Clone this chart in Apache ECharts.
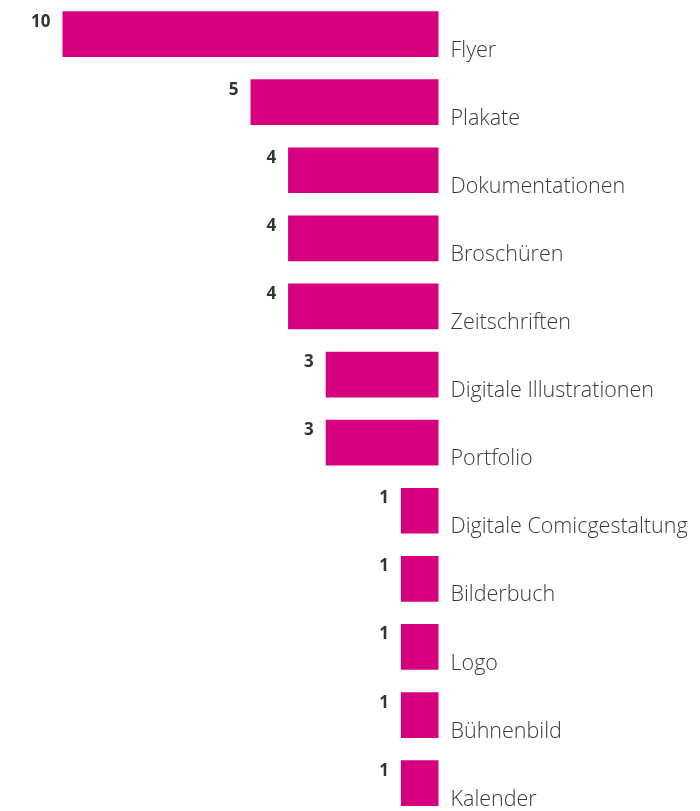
<!DOCTYPE html>
<html>
<head>
    <meta charset="utf-8">
    <title>Medien</title>
    <script src="https://cdn.jsdelivr.net/npm/echarts@6/dist/echarts.min.js"></script>
    <style>
        html, body { margin: 0; padding: 0; background: #fff; overflow: hidden; }
        #chart { width: 700px; height: 818px; }
    </style>
</head>
<body>
    <div id="chart"></div>

    <script type="text/javascript">
        // Kategorien und Werte
        var categories = ['Flyer', 'Plakate', 'Dokumentationen', 'Broschüren', 'Zeitschriften',
            'Digitale Illustrationen', 'Portfolio', 'Digitale Comicgestaltung', 'Bilderbuch',
            'Logo', 'Bühnenbild', 'Kalender'];
        var values = [10, 5, 4, 4, 4, 3, 3, 1, 1, 1, 1, 1];

        // Diagramm ist etwas höher als das Fenster, die letzte Zeile wird unten angeschnitten
        var myChart = echarts.init(document.getElementById('chart'));

        myChart.setOption({
            animation: false,
            grid: {
                left: 62.5,
                right: 261.5,
                top: 0,
                height: 817.2,
                containLabel: false
            },
            xAxis: {
                type: 'value',
                min: 0,
                max: 10,
                inverse: true,
                show: false
            },
            yAxis: {
                type: 'category',
                data: categories,
                inverse: true,
                position: 'right',
                axisLine: { show: false },
                axisTick: { show: false },
                splitLine: { show: false },
                axisLabel: {
                    margin: 12,
                    align: 'left',
                    verticalAlign: 'top',
                    padding: [6, 0, 0, 0],
                    lineHeight: 21,
                    fontSize: 21.5,
                    fontWeight: 300,
                    fontFamily: 'Open Sans',
                    color: '#3a3a3a'
                }
            },
            series: [{
                type: 'bar',
                data: values,
                barWidth: 45.7,
                itemStyle: { color: '#d6007e' },
                label: {
                    show: true,
                    position: [-12, 2],
                    align: 'right',
                    verticalAlign: 'top',
                    fontSize: 17,
                    lineHeight: 17,
                    fontWeight: 'bold',
                    fontFamily: 'Open Sans',
                    color: '#333'
                }
            }]
        });
    </script>
</body>
</html>
